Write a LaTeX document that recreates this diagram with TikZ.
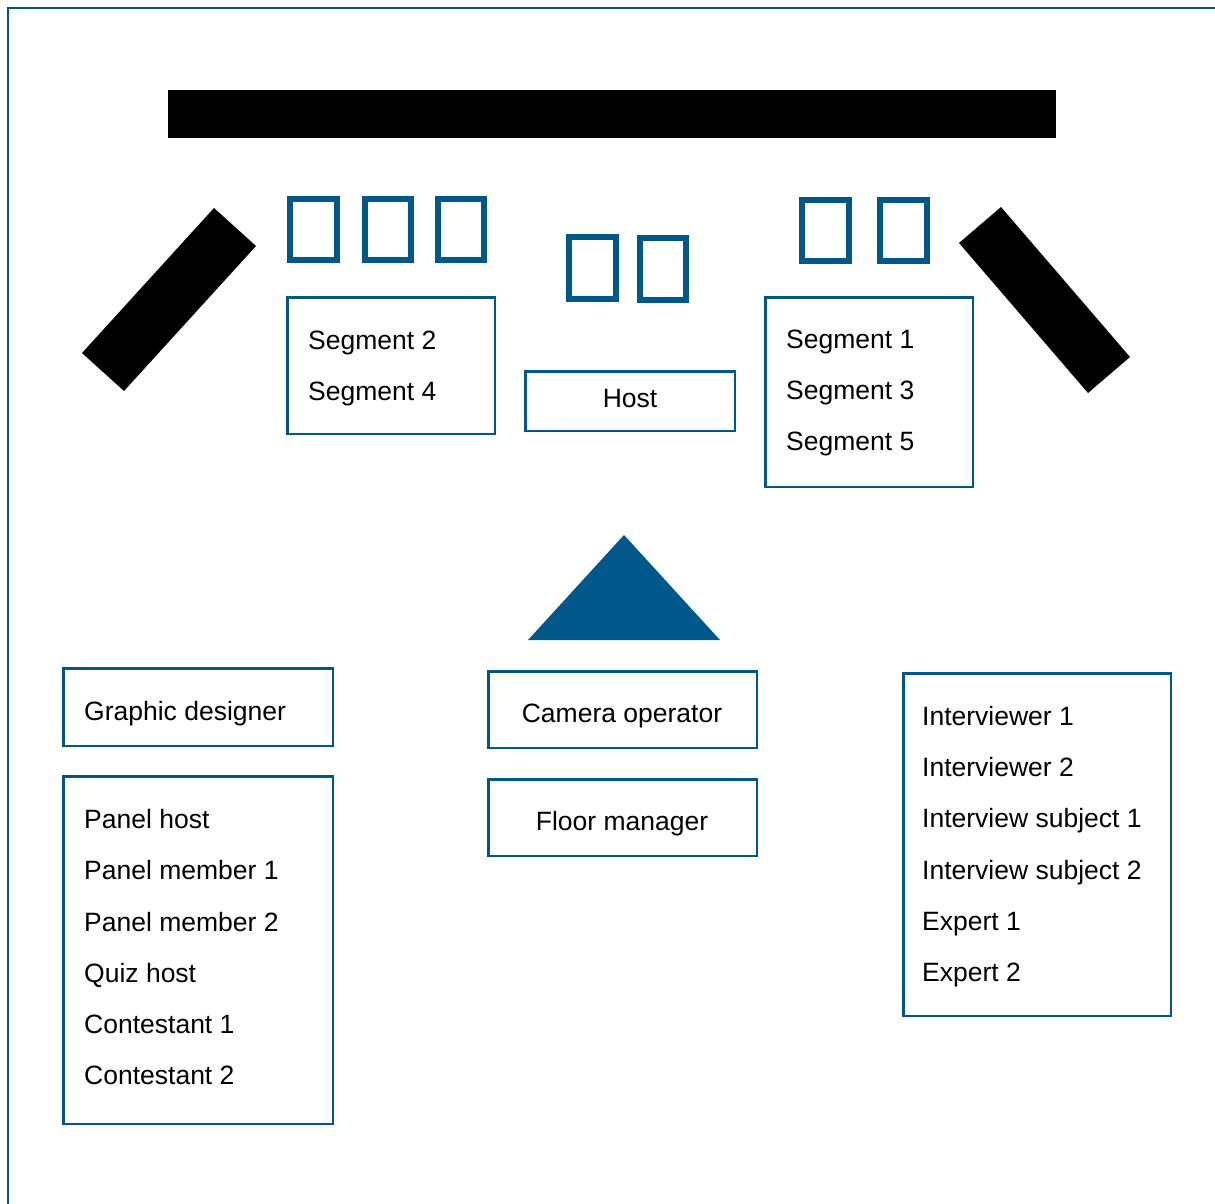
\documentclass[tikz,border=0pt]{standalone}
\usepackage{fontspec}
\setmainfont{Liberation Sans}
\definecolor{stageblue}{RGB}{0,88,138}
\begin{document}
\begin{tikzpicture}[x=1pt,y=-1pt,
  box/.style={draw=stageblue, line width=2.5pt, inner sep=0pt, rectangle},
  seat/.style={draw=stageblue, line width=6pt, inner sep=0pt, rectangle},
  lbl/.style={anchor=base west, inner sep=0pt, font=\fontsize{26.5}{30}\selectfont},
  clbl/.style={anchor=base, inner sep=0pt, font=\fontsize{26.5}{30}\selectfont},
]
\useasboundingbox (0,0) rectangle (1215,1204);
% frame
\draw[stageblue, line width=2.2pt] (1215,8) -- (8,8) -- (8,1204);
% screen bar
\node[fill=black, minimum width=888pt, minimum height=48pt, inner sep=0pt] (screen) at (612,114) {};
% slanted bars
\fill[black] (214,208) -- (256,246) -- (124,391) -- (82,353) -- cycle;
\fill[black] (1001,207) -- (1130,357) -- (1088,393) -- (959,243) -- cycle;
% seats
\node[seat, minimum width=47pt, minimum height=61pt] (s1) at (313.5,229.5) {};
\node[seat, minimum width=46pt, minimum height=61pt] (s2) at (388,229.5) {};
\node[seat, minimum width=46pt, minimum height=61pt] (s3) at (461,229.5) {};
\node[seat, minimum width=47pt, minimum height=62pt] (s4) at (592.5,268) {};
\node[seat, minimum width=46pt, minimum height=62pt] (s5) at (663,269) {};
\node[seat, minimum width=47pt, minimum height=61pt] (s6) at (825.5,230.5) {};
\node[seat, minimum width=47pt, minimum height=61pt] (s7) at (903.5,230.5) {};
% boxes
\node[box, minimum width=207.5pt, minimum height=136.5pt] (seg24) at (391,365.5) {};
\node[box, minimum width=209.5pt, minimum height=59.5pt] (hostbox) at (630,401) {};
\node[box, minimum width=207.5pt, minimum height=189.5pt] (seg135) at (869,392) {};
\node[box, minimum width=269.5pt, minimum height=77.5pt] (graphic) at (198,707) {};
\node[box, minimum width=269.5pt, minimum height=347.5pt] (panel) at (198,950) {};
\node[box, minimum width=268.5pt, minimum height=76.5pt] (camera) at (622.5,709.5) {};
\node[box, minimum width=268.5pt, minimum height=76.5pt] (floor) at (622.5,817.5) {};
\node[box, minimum width=267.5pt, minimum height=342.5pt] (interview) at (1037,844.5) {};
% camera triangle
\fill[stageblue] (624,535) -- (528,640) -- (720,640) -- cycle;
% labels
\node[lbl] (t2) at (308,349) {Segment 2};
\node[lbl] (t4) at (308,400) {Segment 4};
\node[clbl] (th) at (630,407) {Host};
\node[lbl] (t1) at (786,348) {Segment 1};
\node[lbl] (t3) at (786,399) {Segment 3};
\node[lbl] (t5) at (786,450) {Segment 5};
\node[lbl] (tg) at (84,720) {Graphic designer};
\node[lbl] (p1) at (84,828) {Panel host};
\node[lbl] (p2) at (84,879) {Panel member 1};
\node[lbl] (p3) at (84,931) {Panel member 2};
\node[lbl] (p4) at (84,982) {Quiz host};
\node[lbl] (p5) at (84,1033) {Contestant 1};
\node[lbl] (p6) at (84,1084) {Contestant 2};
\node[clbl] (tc) at (622,722) {Camera operator};
\node[clbl] (tf) at (622,830) {Floor manager};
\node[lbl] (i1) at (922,725) {Interviewer 1};
\node[lbl] (i2) at (922,776) {Interviewer 2};
\node[lbl] (i3) at (922,827) {Interview subject 1};
\node[lbl] (i4) at (922,879) {Interview subject 2};
\node[lbl] (i5) at (922,930) {Expert 1};
\node[lbl] (i6) at (922,981) {Expert 2};
\end{tikzpicture}
\end{document}
